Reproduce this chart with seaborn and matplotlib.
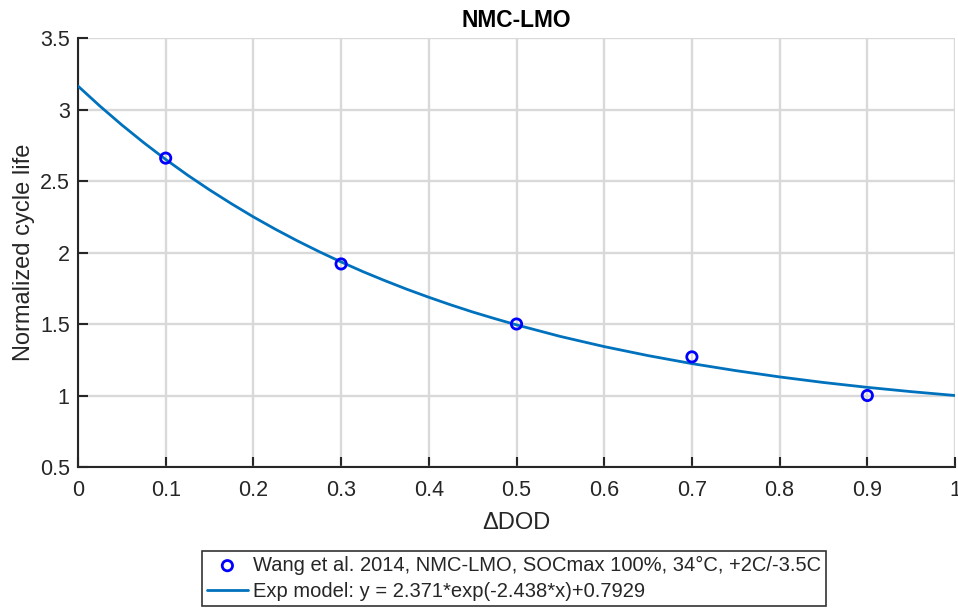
import numpy as np
import pandas as pd
import matplotlib
matplotlib.use("Agg")
import matplotlib.pyplot as plt
import seaborn as sns

# measured points
dod_points = [0.1, 0.3, 0.5, 0.7, 0.9]
life_points = [2.66, 1.92, 1.50, 1.27, 1.00]

# fitted curve
dod_curve = [0.0, 0.025, 0.05, 0.075, 0.1, 0.125, 0.15, 0.175, 0.2, 0.225,
             0.25, 0.275, 0.3, 0.325, 0.35, 0.375, 0.4, 0.425, 0.45, 0.475,
             0.5, 0.55, 0.6, 0.65, 0.7, 0.75, 0.8, 0.85, 0.9, 0.95, 1.0]
life_curve = [3.164, 3.024, 2.892, 2.768, 2.651, 2.541, 2.438, 2.341, 2.249,
              2.163, 2.082, 2.006, 1.934, 1.866, 1.803, 1.743, 1.687, 1.634,
              1.584, 1.538, 1.494, 1.413, 1.342, 1.279, 1.223, 1.174, 1.130,
              1.091, 1.057, 1.027, 1.000]

points_label = "Wang et al. 2014, NMC-LMO, SOCmax 100%, 34°C, +2C/-3.5C"
curve_label = "Exp model: y = 2.371*exp(-2.438*x)+0.7929"

sns.set_style("white")
plt.rcParams['font.family'] = ['Liberation Sans', 'DejaVu Sans']

pts = pd.DataFrame({'dod': dod_points, 'life': life_points})
crv = pd.DataFrame({'dod': dod_curve, 'life': life_curve})

fig = plt.figure(figsize=(9.58, 6.08), dpi=100)
ax = fig.add_axes([0.0814, 0.2319, 0.9155, 0.7056])

sns.scatterplot(ax=ax, data=pts, x='dod', y='life', marker='o', s=55,
                facecolors='none', edgecolors='#0000ff', linewidths=2,
                label=points_label, zorder=4)
sns.lineplot(ax=ax, data=crv, x='dod', y='life', color='#0072BD',
             linewidth=2, label=curve_label, zorder=3)

ax.set_xlim(0, 1)
ax.set_ylim(0.5, 3.5)
ax.set_xticks(np.arange(0, 1.01, 0.1))
ax.set_xticklabels(['0', '0.1', '0.2', '0.3', '0.4', '0.5', '0.6', '0.7', '0.8', '0.9', '1'])
ax.set_yticks(np.arange(0.5, 3.51, 0.5))
ax.set_yticklabels(['0.5', '1', '1.5', '2', '2.5', '3', '3.5'])
ax.grid(True, color='#d9d9d9', linewidth=1.7)
ax.set_axisbelow(True)
for s in ['top', 'right']:
    ax.spines[s].set_visible(False)
for s in ['left', 'bottom']:
    ax.spines[s].set_color('#262626')
    ax.spines[s].set_linewidth(1.5)
ax.tick_params(bottom=True, left=True, direction='in', length=7, width=1.5,
               colors='#262626', labelsize=15.5, labelcolor='#262626')
ax.tick_params(axis='x', pad=9)
ax.tick_params(axis='y', pad=6)

ax.set_xlabel('ΔDOD', fontsize=17, color='#262626', labelpad=8)
ax.set_ylabel('Normalized cycle life', fontsize=17, color='#262626', labelpad=3)
ax.set_title('NMC-LMO', fontsize=16.4, fontweight='bold', color='black', pad=8)

ax.get_legend().remove()
h, l = ax.get_legend_handles_labels()
leg = fig.legend(h, l, loc='upper center', bbox_to_anchor=(0.5365, 0.094),
                 fontsize=14.5, frameon=True, fancybox=False, edgecolor='black',
                 handlelength=2.0, handletextpad=0.25, borderpad=0.25,
                 labelspacing=0.35, borderaxespad=0)
leg.get_frame().set_linewidth(1.2)

fig.savefig("out.png", dpi=100)
